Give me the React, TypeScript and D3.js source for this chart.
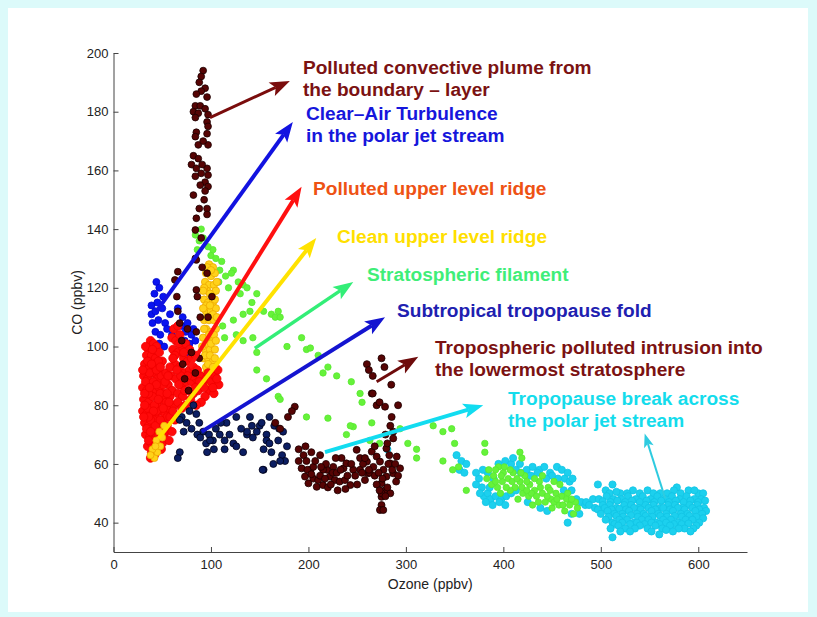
import React from "react";
import * as d3 from "d3";

const W = 817;
const H = 617;

const xTicks = [0, 100, 200, 300, 400, 500, 600];
const yTicks = [40, 60, 80, 100, 120, 140, 160, 180, 200];

type P = [number, number];

// ozone (ppbv), CO (ppbv)
const cyanBreak: P[] = [
  [352, 63], [357, 61], [362, 60], [355, 58], [360, 57], [281, 65],
  [375, 55], [378, 52], [380, 49], [384, 50], [387, 48], [392, 49], [398, 48], [403, 49], [408, 50], [413, 51],
  [384, 57], [379, 58], [390, 55], [395, 60], [402, 61], [408, 60], [413, 58], [418, 57], [424, 58], [430, 59],
  [437, 58], [442, 59], [448, 57], [455, 59], [460, 58], [463, 55], [468, 54], [456, 55], [462, 51], [470, 51],
  [475, 48], [480, 47], [484, 46], [470, 43], [445, 44], [438, 45], [425, 47], [466, 40], [478, 43],
  [372, 53], [376, 50], [382, 47], [389, 46], [396, 47], [402, 46], [386, 52], [372, 57], [450, 56], [444, 55],
  [466, 57], [471, 55], [435, 57], [428, 56], [417, 60], [410, 62],
  [497, 53], [512, 53], [578, 52], [492, 48], [485, 47],
  [505, 51], [520, 50], [533, 51], [548, 51], [561, 50], [575, 51], [590, 51], [600, 50],
  [509, 50], [516, 50.5], [527, 50], [540, 50], [554, 50], [568, 50], [582, 50], [596, 51], [605, 50],
  [498, 48], [506, 49], [513, 48], [521, 48], [528, 49], [536, 48], [543, 49], [551, 48], [558, 49], [566, 48],
  [573, 49], [581, 48], [588, 49], [596, 48], [603, 48],
  [502, 47.3], [510, 47], [517, 47.5], [525, 47], [532, 47.5], [540, 47], [547, 47.5], [555, 47], [562, 47.5],
  [570, 47], [577, 47.5], [585, 47], [592, 47.5], [600, 47], [607, 47.5],
  [488, 46], [494, 45], [502, 46], [509, 46], [516, 45], [524, 46], [531, 46], [539, 45], [546, 46], [554, 46],
  [561, 45], [569, 46], [576, 46], [584, 45], [591, 46], [599, 46], [606, 45],
  [497, 44.5], [504, 45], [511, 44.5], [519, 44.7], [526, 44.5], [534, 45], [541, 44.5], [549, 45], [556, 44.5],
  [564, 45], [571, 44.5], [579, 45], [586, 44.5], [594, 45], [601, 44.5], [608, 44],
  [500, 43], [507, 44], [514, 43], [522, 43], [529, 44], [537, 43], [544, 43], [552, 44], [559, 43], [567, 43],
  [574, 44], [582, 43], [589, 43], [597, 44], [604, 43],
  [508, 42], [516, 42.3], [523, 42], [531, 42.5], [538, 42], [546, 42.3], [553, 42], [561, 42.3], [568, 42],
  [576, 42.3], [583, 42], [591, 42.3], [598, 42], [605, 41.5],
  [505, 41], [512, 40], [519, 41], [527, 41], [534, 40], [542, 41], [549, 41], [557, 40], [564, 41], [572, 41],
  [579, 40], [587, 41], [594, 41], [601, 40],
  [514, 39.5], [522, 40], [530, 39.5], [537, 40], [545, 39.5], [552, 40], [560, 39.5], [567, 40], [575, 39.5],
  [583, 39.5], [590, 39.7], [598, 39],
  [510, 38], [518, 39], [525, 38], [540, 39], [548, 38], [556, 39], [563, 38], [571, 39], [586, 38], [595, 38],
  [520, 37], [535, 38], [552, 37], [567, 37.5], [580, 38], [592, 37],
  [512, 35], [530, 37], [560, 36], [574, 37],
];

const greenFilament: P[] = [
  [90, 140], [84, 138], [88, 136], [92, 137], [86, 133], [102, 133], [100, 131], [97, 134], [105, 130], [109, 126],
  [111, 129], [108, 122], [115, 124], [123, 126], [121, 125], [118, 120], [128, 122], [133, 121], [137, 120],
  [130, 118], [142, 115], [147, 118], [140, 112], [154, 112], [162, 111], [166, 110], [171, 110], [169, 112],
  [133, 111], [123, 109], [112, 107], [114, 103], [133, 102], [143, 103], [147, 98], [178, 100], [193, 103],
  [198, 99], [210, 97], [147, 92], [157, 89], [169, 83], [215, 91], [220, 93], [229, 90], [244, 88], [253, 84],
  [255, 81], [126, 104], [202, 99.5], [171, 82], [198, 76], [220, 75.6], [239, 70], [246, 72.7], [263, 68],
  [273, 67], [243, 73], [265, 74], [294, 72], [302, 67], [311, 65], [311, 62], [328, 73], [338, 71], [347, 72],
  [350, 67], [338, 61], [348, 58], [354, 59], [362, 51], [381, 67], [381, 64], [417, 64], [419, 62],
  [385, 58], [390, 56], [395, 59], [400, 57], [388, 53], [394, 52], [399, 54], [405, 55], [410, 57], [412, 52],
  [417, 54], [422, 56], [427, 53], [420, 50], [426, 49], [432, 51], [437, 54], [440, 50], [446, 52], [443, 47],
  [449, 48], [454, 50], [450, 45], [457, 46], [460, 49], [463, 44], [468, 46], [472, 43], [474, 47], [430, 46],
  [436, 47], [415, 48], [407, 51], [397, 50], [440, 56], [452, 54], [458, 53], [466, 50],
  [383, 55], [392, 58], [398, 56], [403, 52], [409, 54], [414, 55], [419, 52], [424, 54], [429, 50], [434, 49],
  [438, 52], [445, 49], [448, 51], [452, 47], [455, 48], [461, 46], [465, 48], [470, 48], [476, 45], [424, 51],
  [418, 57], [432, 55], [407, 58], [401, 59], [392, 54],
];

const yellowRidge: P[] = [
  [98, 128], [102, 127], [95, 125], [100, 124], [104, 125], [94, 122], [98, 121], [103, 121], [96, 119],
  [101, 118], [105, 119], [93, 116], [97, 115], [102, 115], [95, 112], [100, 112], [105, 113], [93, 109],
  [98, 109], [103, 109], [95, 106], [100, 105], [105, 106], [92, 103], [97, 102], [102, 102], [94, 99],
  [99, 99], [104, 99], [92, 96], [97, 96], [102, 95], [95, 93], [100, 92], [105, 93], [93, 90], [98, 89],
  [103, 90], [96, 86], [101, 86],
  [96, 127], [100, 126], [93, 120], [99, 118], [104, 116], [95, 114], [99, 114], [102, 111], [96, 110],
  [93, 106], [98, 104], [103, 104], [95, 101], [100, 101], [105, 102], [94, 97], [99, 97], [104, 96], [97, 94],
  [102, 93], [95, 91], [100, 90], [96, 88], [99, 87], [104, 88], [92, 113], [92, 119], [106, 122], [106, 110],
  [91, 100],
];

const blueCAT: P[] = [
  [44, 122], [47, 120], [42, 118], [51, 117], [39, 114], [45, 115], [39, 111], [43, 112], [50, 113], [58, 111],
  [40, 108], [46, 109], [53, 108], [43, 105], [48, 104], [55, 106], [60, 104], [47, 101], [52, 100], [70, 107],
  [74, 105], [76, 108], [80, 104], [73, 102], [78, 101], [82, 106], [84, 102], [76, 98], [71, 110], [66, 113],
];

const redRidge: P[] = [
  [38, 102], [41, 101], [36, 99], [44, 100], [34, 97], [39, 97], [43, 96], [47, 98], [32, 94], [37, 93],
  [42, 94], [46, 92], [50, 95], [31, 90], [35, 89], [40, 91], [45, 89], [49, 90], [54, 91], [30, 86],
  [34, 85], [38, 87], [43, 85], [47, 86], [52, 84], [56, 87], [31, 82], [36, 81], [40, 83], [45, 80],
  [50, 82], [54, 81], [58, 83], [30, 78], [34, 77], [39, 79], [43, 76], [48, 78], [53, 77], [57, 79],
  [32, 74], [36, 73], [41, 75], [46, 72], [50, 74], [55, 73], [33, 70], [37, 69], [42, 71], [47, 68],
  [52, 70], [35, 66], [39, 64], [44, 67], [49, 65], [38, 62], [42, 63], [33, 88], [36, 84], [41, 88],
  [35, 79], [38, 75], [44, 78], [40, 72], [39, 67], [46, 70], [32, 84], [42, 80], [48, 84], [51, 87],
  [37, 91], [44, 92],
  [33, 100], [40, 99], [46, 95], [35, 95], [30, 92], [39, 94], [48, 93], [53, 88], [44, 87], [37, 86],
  [32, 80], [41, 78], [46, 82], [51, 79], [55, 76], [36, 76], [43, 73], [48, 75], [53, 71], [34, 72],
  [31, 76], [38, 71], [45, 65], [41, 68], [50, 67], [36, 68],
  [62, 106], [66, 107], [60, 103], [64, 102], [68, 104], [61, 99], [66, 98], [70, 100], [74, 101], [78, 99],
  [72, 96], [76, 95], [80, 96], [84, 97], [63, 94], [68, 93], [73, 91], [78, 92], [82, 93], [86, 92],
  [59, 90], [64, 89], [70, 87], [75, 88], [80, 88], [85, 89], [89, 90], [60, 85], [66, 84], [71, 83],
  [77, 85], [82, 84], [87, 85], [91, 87], [95, 89], [100, 88], [104, 90], [107, 92], [98, 85], [103, 84],
  [108, 87], [94, 83], [90, 81], [62, 80], [58, 76], [63, 75], [60, 71], [57, 68], [74, 80], [85, 80],
  [56, 90], [58, 93], [55, 84], [67, 101], [72, 98], [63, 97], [81, 90], [76, 90], [69, 90], [88, 88],
  [93, 86], [97, 91], [102, 86], [106, 89], [84, 86], [73, 85], [79, 82], [67, 87], [65, 92], [61, 96],
  [57, 81], [61, 78], [66, 81], [70, 79],
];

const yellowLow: P[] = [
  [42, 62], [45, 64], [48, 66], [40, 65], [44, 68], [50, 69], [47, 71], [52, 73], [38, 63], [43, 66],
];

const navyFold: P[] = [
  [82, 80], [78, 78], [85, 77], [70, 76], [75, 74], [88, 74], [68, 75], [80, 72], [92, 71], [72, 71],
  [86, 70], [98, 70], [89, 69], [95, 67], [102, 68], [105, 72], [109, 70], [103, 65], [96, 64], [68, 64],
  [66, 62], [99, 68], [116, 74], [123, 67], [114, 68], [114, 65], [126, 66], [133, 64], [137, 70], [140, 76],
  [126, 76], [137, 71], [143, 69], [142, 73], [150, 73], [152, 74], [157, 70], [157, 68], [160, 67], [154, 65],
  [162, 64], [165, 73], [170, 72], [169, 68], [174, 71], [173, 63], [176, 61], [178, 66], [171, 61], [164, 60],
  [154, 58], [153, 58], [160, 76], [147, 71], [131, 72], [119, 70], [110, 74],
];

const maroonPlume: P[] = [
  [92, 194], [90, 192], [88, 190], [94, 188], [90, 187], [85, 186], [96, 185], [84, 182], [89, 182], [94, 181],
  [82, 180], [87, 179.5], [97, 179], [84, 178], [96, 176.5], [97, 175], [85, 173], [96, 172.5], [84, 171.5],
  [87, 168.7], [97, 168.7], [82, 165], [87, 164], [80, 162], [85, 160.7], [96, 160.7], [90, 159], [97, 158.4],
  [84, 158], [94, 156], [89, 155], [97, 154.5], [94, 153], [82, 151.6], [96, 147], [96, 145], [85, 143.7],
  [84, 139.7], [90, 137], [84, 130], [96, 125], [66, 125.5], [85, 119.3], [63, 122.7], [65, 117], [66, 112],
  [85, 129.5], [86, 117], [101, 117], [97, 110], [91, 127], [89, 110], [85, 105], [70, 102], [71, 94], [84, 91],
  [73, 89], [77, 85], [80, 98], [88, 96], [76, 106], [68, 108], [93, 150], [91, 162], [88, 147], [92, 170],
];

const maroonIntrusion: P[] = [
  [186, 79.5], [179, 76], [183, 78], [166, 74], [171, 72], [190, 65], [195, 63], [198, 61], [193, 58.5], [202, 58],
  [196.5, 55.7], [205, 55], [200, 53.4], [210, 54.5], [208.5, 52.2], [215, 52.8], [219, 58], [222, 55.7], [227, 54.5],
  [232, 54], [237.5, 54.5], [236, 58.5], [234, 62], [225.5, 59], [212, 63], [203, 64], [243, 52.8], [253, 58],
  [249.5, 64.8], [253, 62], [260, 60.8], [261, 56.8], [258, 54.5], [266.6, 59], [270, 62.5], [265, 64.2],
  [273.4, 60.8], [277, 58], [280, 55.7], [275, 53.4], [278.6, 51], [283.7, 60.2], [287, 56.8], [290.6, 62.5],
  [294, 58.5], [280, 65.3], [287, 68.7], [275, 48.8], [275, 46], [273.4, 44.3], [276.8, 44.3], [265, 84], [270, 80],
  [278.6, 79.5], [292, 80], [287, 71], [285.4, 76], [246, 58], [239, 60.2], [260, 94], [275, 96], [266, 90],
  [285, 87], [266, 84], [273, 81], [262, 92], [278, 93], [215, 58], [220, 52], [225, 57], [230, 51], [205, 59],
  [212, 56], [190, 61], [228, 62], [240, 56], [250, 53], [256, 60], [263, 57], [270, 53], [282, 60], [290, 54],
  [284, 50], [268, 66], [279, 70], [283, 63], [197, 66], [218, 60], [244, 60],
  [199, 58], [207, 61], [203, 56.5], [213, 59], [217, 55], [223, 53], [229, 57], [233, 58], [238, 51.5], [248, 56],
  [255, 57], [258, 62], [262, 58], [268, 56], [272, 57], [276, 55], [281, 52], [286, 58], [289, 60], [292, 56],
  [275, 50], [279, 49], [273, 51], [281, 67], [284, 73],
];

// arrows: [fromOzone, fromCO, toOzone, toCO]
const arrowEnds: [number, number, number, number][] = [
  [99, 178, 181, 190.5],
  [44, 112, 184, 176.5],
  [78, 93, 193, 154.4],
  [46, 68.7, 208, 137],
  [145, 99.4, 246, 122],
  [90.5, 71, 278.6, 110],
  [270, 88, 312.7, 96.5],
  [217, 64, 379.4, 80],
  [566, 48.3, 545, 70.4],
];
const arrowColors = ["#7a0c0c", "#1212e0", "#ff1010", "#ffe200", "#33ee77", "#1414d0", "#6e0b0b", "#12dcf0", "#2ecbe0"];
const arrowWidths = [3, 4, 4, 4, 3.5, 4, 3, 4, 2];

// labels: first line anchor [ozone, CO]
const labelLines = [
  ["Polluted convective plume from", "the boundary \u2013 layer"],
  ["Clear\u2013Air Turbulence", "in the polar jet stream"],
  ["Polluted upper level ridge"],
  ["Clean upper level ridge"],
  ["Stratospheric filament"],
  ["Subtropical tropopause fold"],
  ["Tropospheric polluted intrusion into", "the lowermost stratosphere"],
  ["Tropopause break across", "the polar jet stream"],
];
const labelAt: P[] = [
  [194.4, 192.9], [197.5, 177.2], [204.7, 151.6], [229.3, 135.3],
  [260.1, 122.4], [290.9, 110.1], [329.9, 97.5], [404.8, 80.1],
];
const labelColors = ["#7b1212", "#1616dc", "#ee5214", "#ffdf00", "#3fee78", "#2020b0", "#7b1212", "#14dcec"];

const App = () => {
  const svgRef = React.useRef<SVGSVGElement>(null);

  React.useEffect(() => {
    const svg = d3.select(svgRef.current);
    svg.selectAll("*").remove();

    const x = d3.scaleLinear().domain([0, 650]).range([113.5, 747]);
    const y = d3.scaleLinear().domain([30, 200]).range([552, 53]);

    svg.append("rect").attr("width", W).attr("height", H).attr("fill", "#dcfafa");
    svg.append("rect").attr("x", 8).attr("y", 8).attr("width", 800).attr("height", 604).attr("fill", "#fff");

    const series = [
      { pts: cyanBreak, fill: "#1cd0ee", stroke: "#12c4e4", r: 3.6 },
      { pts: greenFilament, fill: "#66f23a", stroke: "#58e830", r: 3.2 },
      { pts: yellowRidge, fill: "#ffd21a", stroke: "#eeaa00", r: 3.7 },
      { pts: blueCAT, fill: "#0a14f0", stroke: "#0008cc", r: 3.5 },
      { pts: redRidge, fill: "#ff0a0a", stroke: "#f00000", r: 4.2 },
      { pts: yellowLow, fill: "#ffd21a", stroke: "#eeaa00", r: 3.5 },
      { pts: navyFold, fill: "#0c1e62", stroke: "#000018", r: 3.5 },
      { pts: maroonPlume, fill: "#560404", stroke: "#1a0000", r: 3.4 },
      { pts: maroonIntrusion, fill: "#560404", stroke: "#1a0000", r: 3.5 },
    ];

    series.forEach((s) => {
      svg
        .append("g")
        .selectAll("circle")
        .data(s.pts)
        .join("circle")
        .attr("cx", (d: P) => x(d[0]))
        .attr("cy", (d: P) => y(d[1]))
        .attr("r", s.r)
        .attr("fill", s.fill)
        .attr("stroke", s.stroke)
        .attr("stroke-width", 0.8);
    });

    // arrows
    const ag = svg.append("g");
    arrowEnds.forEach((a, i) => {
      const x0 = x(a[0]), y0 = y(a[1]), x1 = x(a[2]), y1 = y(a[3]);
      const len = Math.hypot(x1 - x0, y1 - y0);
      const ux = (x1 - x0) / len, uy = (y1 - y0) / len;
      const thin = arrowWidths[i] < 3;
      const hl = thin ? 14 : 20;
      const hw = thin ? 5 : 7.5;
      const bx = x1 - ux * hl, by = y1 - uy * hl;
      const nx = x1 - ux * hl * 0.78, ny = y1 - uy * hl * 0.78;
      ag.append("line")
        .attr("x1", x0).attr("y1", y0)
        .attr("x2", nx).attr("y2", ny)
        .attr("stroke", arrowColors[i])
        .attr("stroke-width", arrowWidths[i]);
      ag.append("path")
        .attr("d", `M${x1},${y1}L${bx - uy * hw},${by + ux * hw}L${nx},${ny}L${bx + uy * hw},${by - ux * hw}Z`)
        .attr("fill", arrowColors[i]);
    });

    // axes (inward ticks)
    const yAxis = svg
      .append("g")
      .attr("transform", `translate(${x(0)},0)`)
      .call(d3.axisLeft(y).tickValues(yTicks).tickSizeInner(-5).tickSizeOuter(0).tickPadding(5));
    const xAxis = svg
      .append("g")
      .attr("transform", `translate(0,${y(30)})`)
      .call(d3.axisBottom(x).tickValues(xTicks).tickSizeInner(-5).tickSizeOuter(0).tickPadding(8));
    [yAxis, xAxis].forEach((g) => {
      g.attr("font-family", "Arial, 'Liberation Sans', sans-serif").attr("font-size", 13);
      g.select(".domain").attr("stroke", "#444");
      g.selectAll(".tick line").attr("stroke", "#444");
      g.selectAll("text").attr("fill", "#222");
    });

    svg.append("text")
      .attr("x", (x(0) + x(650)) / 2)
      .attr("y", 589)
      .attr("text-anchor", "middle")
      .attr("font-family", "Arial, 'Liberation Sans', sans-serif")
      .attr("font-size", 14)
      .attr("fill", "#222")
      .text("Ozone (ppbv)");
    svg.append("text")
      .attr("transform", `translate(82,${(y(30) + y(200)) / 2}) rotate(-90)`)
      .attr("text-anchor", "middle")
      .attr("font-family", "Arial, 'Liberation Sans', sans-serif")
      .attr("font-size", 14)
      .attr("fill", "#222")
      .text("CO (ppbv)");

    // annotations
    labelLines.forEach((lines, i) => {
      const t = svg.append("text")
        .attr("font-family", "Arial, 'Liberation Sans', sans-serif")
        .attr("font-weight", "bold")
        .attr("font-size", 19.1)
        .attr("fill", labelColors[i]);
      lines.forEach((line, j) => {
        t.append("tspan")
          .attr("x", x(labelAt[i][0]))
          .attr("y", y(labelAt[i][1]) + j * 22)
          .text(line);
      });
    });
  }, []);

  return (
    <svg
      ref={svgRef}
      width={W}
      height={H}
      style={{ position: "absolute", left: 0, top: 0 }}
    />
  );
};

export default App;
